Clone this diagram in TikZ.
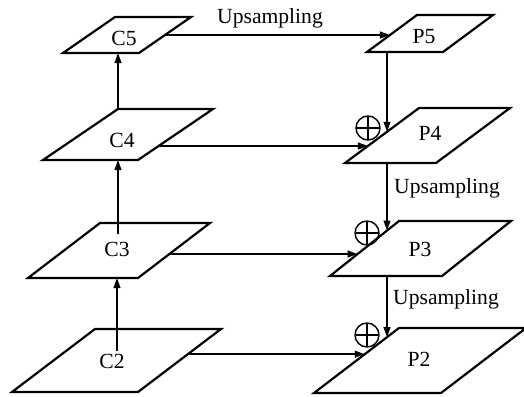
\documentclass[tikz,border=0pt]{standalone}
\usepackage{fontspec}
\setmainfont{Liberation Serif}
\usetikzlibrary{arrows.meta,calc}

% one feature map drawn as a slanted plane
% #1 name, #2 x of lower-left corner, #3 y of bottom edge,
% #4 width, #5 horizontal shift of the top edge, #6 y of top edge
\newcommand\featplane[6]{%
  \coordinate (#1bl) at (#2,#3);
  \coordinate (#1br) at (#2+#4,#3);
  \coordinate (#1tl) at (#2+#5,#6);
  \coordinate (#1tr) at (#2+#4+#5,#6);
  \draw[plane] (#1bl) -- (#1br) -- (#1tr) -- (#1tl) -- cycle;
}

% lateral connection: from the right edge of plane #1 (at fraction #2)
% straight across to the left edge of plane #3; #4 names the link
\newcommand\lateral[4]{%
  \coordinate (#4s) at ($(#1br)!#2!(#1tr)$);
  \coordinate (#4h) at ($(#4s)+(10,0)$);
  \coordinate (#4e) at (intersection of #3bl--#3tl and #4s--#4h);
  \draw[arr] (#4s) -- (#4e);
}

% top-down connection: straight down at x = #2 from plane #1 to the left edge of plane #3
\newcommand\topdown[4]{%
  \coordinate (#4s) at (#2,0);
  \coordinate (#4s) at (#4s |- #1bl);
  \coordinate (#4h) at ($(#4s)+(0,100)$);
  \coordinate (#4e) at (intersection of #3bl--#3tl and #4s--#4h);
  \draw[arr] (#4s) -- (#4e);
}

\tikzset{
  plane/.style={line width=1.1pt, line join=miter, fill=white},
  arr/.style={line width=0.8pt, -{Triangle[length=5pt,width=3.4pt]}},
  lbl/.style={font=\fontsize{10.8}{12}\selectfont, inner sep=0pt},
  oplus/.style={circle, draw, line width=0.7pt, minimum size=12pt, inner sep=0pt,
    path picture={
      \draw[line width=0.7pt] (path picture bounding box.north) -- (path picture bounding box.south);
      \draw[line width=0.7pt] (path picture bounding box.west) -- (path picture bounding box.east);
    }},
}

\begin{document}
\begin{tikzpicture}[x=0.5pt, y=-0.5pt]
  \useasboundingbox (0,0) rectangle (524,396);

  % bottom-up pathway
  \featplane{C5}{63}{53}{76}{52}{17}
  \featplane{C4}{43}{160}{95}{75}{109}
  \featplane{C3}{28}{278}{110}{72}{223}
  \featplane{C2}{12}{392}{126}{83}{329}

  % top-down pathway
  \featplane{P5}{367}{52}{76}{50}{15}
  \featplane{P4}{345}{163}{91}{74}{108}
  \featplane{P3}{330}{276}{112}{69}{221}
  \featplane{P2}{314}{393}{127}{85}{328}

  % plane labels
  \node[lbl] (lC5) at (124,38) {C5};
  \node[lbl] (lC4) at (122,140) {C4};
  \node[lbl] (lC3) at (117,249) {C3};
  \node[lbl] (lC2) at (112,361) {C2};
  \node[lbl] (lP5) at (424,37) {P5};
  \node[lbl] (lP4) at (430,133) {P4};
  \node[lbl] (lP3) at (420,249) {P3};
  \node[lbl] (lP2) at (419,359) {P2};

  % bottom-up arrows
  \coordinate (u2) at (117,351);
  \coordinate (u3) at (118,234);
  \coordinate (u4) at (118,110);
  \draw[arr] (u2) -- (u2 |- C3bl);
  \draw[arr] (u3) -- (u3 |- C4bl);
  \draw[arr] (u4) -- (u4 |- C5bl);

  % lateral connections
  \lateral{C5}{0.5}{P5}{L5}
  \lateral{C4}{0.275}{P4}{L4}
  \lateral{C3}{0.436}{P3}{L3}
  \lateral{C2}{0.6}{P2}{L2}

  % upsampling arrows
  \topdown{P5}{387}{P4}{D4}
  \topdown{P4}{387}{P3}{D3}
  \topdown{P3}{387}{P2}{D2}

  % element-wise addition
  \node[oplus] (add4) at (368,128) {};
  \node[oplus] (add3) at (367,233) {};
  \node[oplus] (add2) at (367,335) {};

  % upsampling labels
  \node[lbl] (up5) at (270,18) {Upsampling};
  \node[lbl] (up4) at (447,188) {Upsampling};
  \node[lbl] (up3) at (446,299) {Upsampling};
\end{tikzpicture}
\end{document}
